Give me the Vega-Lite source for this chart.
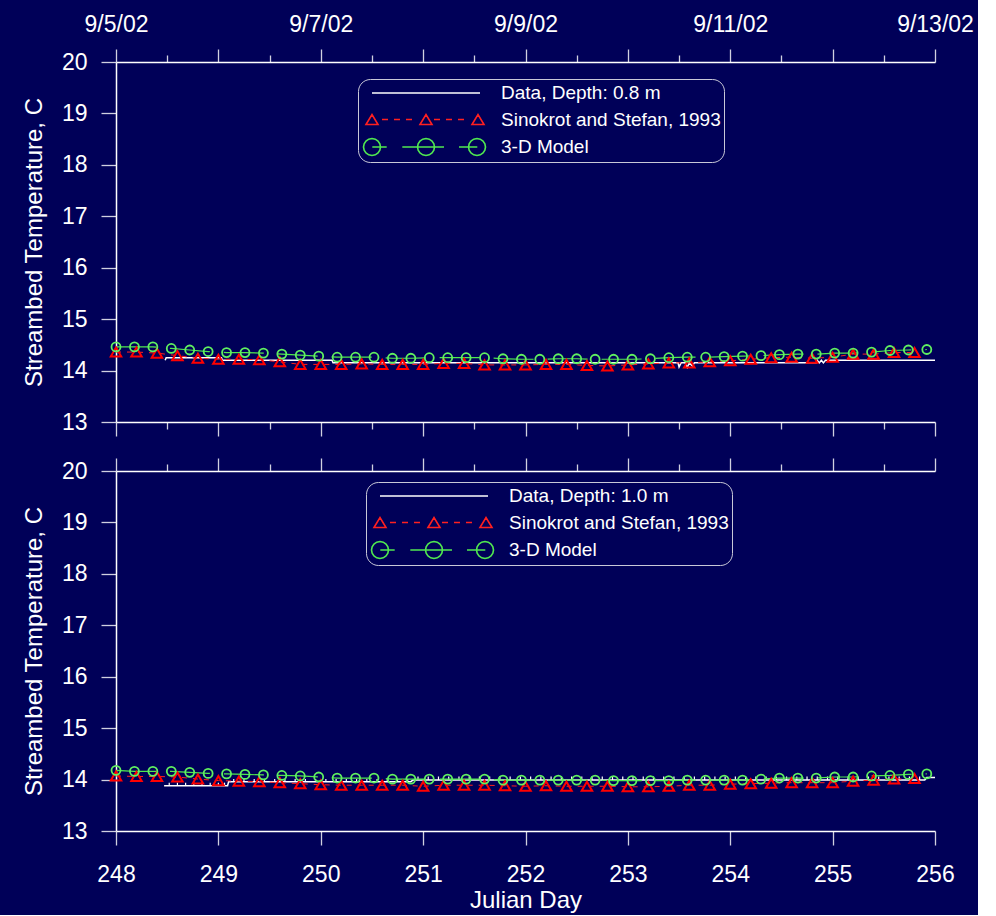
{
"$schema": "https://vega.github.io/schema/vega-lite/v6.json",
"background": "#000058",
"padding": {"left": 22, "top": 13, "right": 4, "bottom": 3},
"bounds": "flush",
"spacing": 49,
"config": {
  "view": {"stroke": null},
  "font": "Liberation Sans",
  "axis": {"labelFont": "Liberation Sans", "labelFontSize": 23, "labelColor": "#ffffff", "domainColor": "#ffffff", "domainWidth": 1.5, "tickColor": "#d0d0e0", "tickWidth": 1.3, "grid": false, "titleFont": "Liberation Sans", "titleFontSize": 24, "titleFontWeight": "normal", "titleColor": "#ffffff", "labelOverlap": false, "labelFlush": false},
  "legend": {"labelFont": "Liberation Sans", "labelFontSize": 19, "labelColor": "#ffffff", "labelLimit": 400, "symbolSize": 400, "symbolStrokeWidth": 1.6, "labelOffset": 118, "padding": 3, "rowPadding": 5.5, "strokeColor": "#c8c8d8", "cornerRadius": 12, "fillColor": "#000058"}
},
"datasets": {
"top": [
{"s":"data","d":248.48,"t":14.2},{"s":"data","d":248.49,"t":14.25},{"s":"data","d":249.03,"t":14.25},{"s":"data","d":249.04,"t":14.2},{"s":"data","d":250.11,"t":14.2},{"s":"data","d":250.12,"t":14.15},{"s":"data","d":253.49,"t":14.15},{"s":"data","d":253.5,"t":14.07},{"s":"data","d":253.52,"t":14.15},{"s":"data","d":253.56,"t":14.15},{"s":"data","d":253.58,"t":14.06},{"s":"data","d":253.6,"t":14.15},{"s":"data","d":253.63,"t":14.09},{"s":"data","d":253.65,"t":14.15},{"s":"data","d":254.84,"t":14.15},{"s":"data","d":254.85,"t":14.2},{"s":"data","d":254.87,"t":14.15},{"s":"data","d":254.89,"t":14.2},{"s":"data","d":254.91,"t":14.15},{"s":"data","d":254.93,"t":14.2},{"s":"data","d":256,"t":14.2},
{"s":"sino","d":248.0,"t":14.36},{"s":"sino","d":248.2,"t":14.36},{"s":"sino","d":248.4,"t":14.34},{"s":"sino","d":248.6,"t":14.29},{"s":"sino","d":248.8,"t":14.24},{"s":"sino","d":249.0,"t":14.22},{"s":"sino","d":249.2,"t":14.22},{"s":"sino","d":249.4,"t":14.21},{"s":"sino","d":249.6,"t":14.17},{"s":"sino","d":249.8,"t":14.12},{"s":"sino","d":250.0,"t":14.12},{"s":"sino","d":250.2,"t":14.12},{"s":"sino","d":250.4,"t":14.13},{"s":"sino","d":250.6,"t":14.12},{"s":"sino","d":250.8,"t":14.12},{"s":"sino","d":251.0,"t":14.12},{"s":"sino","d":251.2,"t":14.14},{"s":"sino","d":251.4,"t":14.14},{"s":"sino","d":251.6,"t":14.11},{"s":"sino","d":251.8,"t":14.11},{"s":"sino","d":252.0,"t":14.11},{"s":"sino","d":252.2,"t":14.12},{"s":"sino","d":252.4,"t":14.12},{"s":"sino","d":252.6,"t":14.10},{"s":"sino","d":252.8,"t":14.09},{"s":"sino","d":253.0,"t":14.11},{"s":"sino","d":253.2,"t":14.13},{"s":"sino","d":253.4,"t":14.15},{"s":"sino","d":253.6,"t":14.15},{"s":"sino","d":253.8,"t":14.17},{"s":"sino","d":254.0,"t":14.19},{"s":"sino","d":254.2,"t":14.22},{"s":"sino","d":254.4,"t":14.25},{"s":"sino","d":254.6,"t":14.26},{"s":"sino","d":254.8,"t":14.24},{"s":"sino","d":255.0,"t":14.26},{"s":"sino","d":255.2,"t":14.32},{"s":"sino","d":255.4,"t":14.32},{"s":"sino","d":255.6,"t":14.35},{"s":"sino","d":255.8,"t":14.35},
{"s":"model","d":248.0,"t":14.46},{"s":"model","d":248.18,"t":14.46},{"s":"model","d":248.36,"t":14.46},{"s":"model","d":248.54,"t":14.43},{"s":"model","d":248.72,"t":14.40},{"s":"model","d":248.9,"t":14.37},{"s":"model","d":249.08,"t":14.35},{"s":"model","d":249.26,"t":14.35},{"s":"model","d":249.44,"t":14.34},{"s":"model","d":249.62,"t":14.32},{"s":"model","d":249.8,"t":14.30},{"s":"model","d":249.98,"t":14.28},{"s":"model","d":250.16,"t":14.26},{"s":"model","d":250.34,"t":14.26},{"s":"model","d":250.52,"t":14.26},{"s":"model","d":250.7,"t":14.24},{"s":"model","d":250.88,"t":14.24},{"s":"model","d":251.06,"t":14.25},{"s":"model","d":251.24,"t":14.25},{"s":"model","d":251.42,"t":14.25},{"s":"model","d":251.6,"t":14.25},{"s":"model","d":251.78,"t":14.23},{"s":"model","d":251.96,"t":14.22},{"s":"model","d":252.14,"t":14.22},{"s":"model","d":252.32,"t":14.23},{"s":"model","d":252.5,"t":14.23},{"s":"model","d":252.68,"t":14.22},{"s":"model","d":252.86,"t":14.22},{"s":"model","d":253.04,"t":14.22},{"s":"model","d":253.22,"t":14.23},{"s":"model","d":253.4,"t":14.25},{"s":"model","d":253.58,"t":14.26},{"s":"model","d":253.76,"t":14.26},{"s":"model","d":253.94,"t":14.27},{"s":"model","d":254.12,"t":14.28},{"s":"model","d":254.3,"t":14.29},{"s":"model","d":254.48,"t":14.31},{"s":"model","d":254.66,"t":14.32},{"s":"model","d":254.84,"t":14.32},{"s":"model","d":255.02,"t":14.34},{"s":"model","d":255.2,"t":14.34},{"s":"model","d":255.38,"t":14.36},{"s":"model","d":255.56,"t":14.39},{"s":"model","d":255.74,"t":14.40},{"s":"model","d":255.92,"t":14.41}
],
"bottom": [
{"s":"data","d":248.47,"t":13.88},{"s":"data","d":249.09,"t":13.88},{"s":"data","d":249.1,"t":13.96},{"s":"data","d":250.88,"t":13.96},{"s":"data","d":250.9,"t":13.99},{"s":"data","d":255.9,"t":13.99},{"s":"data","d":255.92,"t":14.04},{"s":"data","d":256,"t":14.04},
{"s":"sino","d":248.0,"t":14.07},{"s":"sino","d":248.2,"t":14.06},{"s":"sino","d":248.4,"t":14.06},{"s":"sino","d":248.6,"t":14.05},{"s":"sino","d":248.8,"t":14.01},{"s":"sino","d":249.0,"t":13.98},{"s":"sino","d":249.2,"t":13.97},{"s":"sino","d":249.4,"t":13.96},{"s":"sino","d":249.6,"t":13.94},{"s":"sino","d":249.8,"t":13.92},{"s":"sino","d":250.0,"t":13.90},{"s":"sino","d":250.2,"t":13.89},{"s":"sino","d":250.4,"t":13.89},{"s":"sino","d":250.6,"t":13.89},{"s":"sino","d":250.8,"t":13.89},{"s":"sino","d":251.0,"t":13.87},{"s":"sino","d":251.2,"t":13.89},{"s":"sino","d":251.4,"t":13.89},{"s":"sino","d":251.6,"t":13.89},{"s":"sino","d":251.8,"t":13.88},{"s":"sino","d":252.0,"t":13.87},{"s":"sino","d":252.2,"t":13.88},{"s":"sino","d":252.4,"t":13.87},{"s":"sino","d":252.6,"t":13.87},{"s":"sino","d":252.8,"t":13.87},{"s":"sino","d":253.0,"t":13.86},{"s":"sino","d":253.2,"t":13.86},{"s":"sino","d":253.4,"t":13.87},{"s":"sino","d":253.6,"t":13.89},{"s":"sino","d":253.8,"t":13.89},{"s":"sino","d":254.0,"t":13.91},{"s":"sino","d":254.2,"t":13.92},{"s":"sino","d":254.4,"t":13.93},{"s":"sino","d":254.6,"t":13.94},{"s":"sino","d":254.8,"t":13.94},{"s":"sino","d":255.0,"t":13.94},{"s":"sino","d":255.2,"t":13.97},{"s":"sino","d":255.4,"t":13.99},{"s":"sino","d":255.6,"t":14.01},{"s":"sino","d":255.8,"t":14.02},
{"s":"model","d":248.0,"t":14.18},{"s":"model","d":248.18,"t":14.16},{"s":"model","d":248.36,"t":14.16},{"s":"model","d":248.54,"t":14.16},{"s":"model","d":248.72,"t":14.14},{"s":"model","d":248.9,"t":14.12},{"s":"model","d":249.08,"t":14.11},{"s":"model","d":249.26,"t":14.10},{"s":"model","d":249.44,"t":14.09},{"s":"model","d":249.62,"t":14.08},{"s":"model","d":249.8,"t":14.07},{"s":"model","d":249.98,"t":14.05},{"s":"model","d":250.16,"t":14.03},{"s":"model","d":250.34,"t":14.03},{"s":"model","d":250.52,"t":14.03},{"s":"model","d":250.7,"t":14.01},{"s":"model","d":250.88,"t":14.01},{"s":"model","d":251.06,"t":14.01},{"s":"model","d":251.24,"t":14.01},{"s":"model","d":251.42,"t":14.01},{"s":"model","d":251.6,"t":14.01},{"s":"model","d":251.78,"t":13.99},{"s":"model","d":251.96,"t":13.99},{"s":"model","d":252.14,"t":13.99},{"s":"model","d":252.32,"t":13.99},{"s":"model","d":252.5,"t":13.99},{"s":"model","d":252.68,"t":13.99},{"s":"model","d":252.86,"t":13.98},{"s":"model","d":253.04,"t":13.98},{"s":"model","d":253.22,"t":13.98},{"s":"model","d":253.4,"t":13.98},{"s":"model","d":253.58,"t":13.99},{"s":"model","d":253.76,"t":13.99},{"s":"model","d":253.94,"t":13.99},{"s":"model","d":254.12,"t":13.99},{"s":"model","d":254.3,"t":14.01},{"s":"model","d":254.48,"t":14.03},{"s":"model","d":254.66,"t":14.03},{"s":"model","d":254.84,"t":14.03},{"s":"model","d":255.02,"t":14.05},{"s":"model","d":255.2,"t":14.05},{"s":"model","d":255.38,"t":14.07},{"s":"model","d":255.56,"t":14.08},{"s":"model","d":255.74,"t":14.10},{"s":"model","d":255.92,"t":14.11}
],
"bsp": [
{"d":248.52,"lo":13.88,"hi":13.94},{"d":248.6,"lo":13.88,"hi":13.94},{"d":248.68,"lo":13.88,"hi":13.94},{"d":248.76,"lo":13.88,"hi":13.94},{"d":248.84,"lo":13.88,"hi":13.94},{"d":248.92,"lo":13.88,"hi":13.94},{"d":249.0,"lo":13.88,"hi":13.94},{"d":249.06,"lo":13.88,"hi":13.94},
{"d":249.15,"lo":13.96,"hi":14.01},{"d":249.25,"lo":13.96,"hi":14.01},{"d":249.35,"lo":13.96,"hi":14.01},{"d":249.45,"lo":13.96,"hi":14.01},{"d":249.55,"lo":13.96,"hi":14.01},{"d":249.65,"lo":13.96,"hi":14.01},{"d":249.75,"lo":13.96,"hi":14.01},{"d":249.85,"lo":13.96,"hi":14.01},{"d":249.95,"lo":13.96,"hi":14.01},{"d":250.05,"lo":13.96,"hi":14.01},{"d":250.15,"lo":13.96,"hi":14.01},{"d":250.25,"lo":13.96,"hi":14.01},{"d":250.35,"lo":13.96,"hi":14.01},{"d":250.45,"lo":13.96,"hi":14.01},{"d":250.55,"lo":13.96,"hi":14.01},{"d":250.65,"lo":13.96,"hi":14.01},{"d":250.75,"lo":13.96,"hi":14.01},{"d":250.85,"lo":13.96,"hi":14.01},
{"d":250.95,"lo":13.99,"hi":14.06},{"d":251.05,"lo":13.99,"hi":14.06},{"d":251.15,"lo":13.99,"hi":14.06},{"d":251.25,"lo":13.99,"hi":14.06},{"d":251.35,"lo":13.99,"hi":14.06},{"d":251.45,"lo":13.99,"hi":14.06},{"d":251.55,"lo":13.99,"hi":14.06},{"d":251.65,"lo":13.99,"hi":14.06},{"d":251.75,"lo":13.99,"hi":14.06},{"d":251.85,"lo":13.99,"hi":14.06},{"d":251.95,"lo":13.99,"hi":14.06},{"d":252.05,"lo":13.99,"hi":14.06},{"d":252.15,"lo":13.99,"hi":14.06},{"d":252.25,"lo":13.99,"hi":14.06},{"d":252.35,"lo":13.99,"hi":14.06},{"d":252.45,"lo":13.99,"hi":14.06},{"d":252.55,"lo":13.99,"hi":14.06},{"d":252.65,"lo":13.99,"hi":14.06},{"d":252.75,"lo":13.99,"hi":14.06},{"d":252.85,"lo":13.99,"hi":14.06},{"d":252.95,"lo":13.99,"hi":14.06},{"d":253.05,"lo":13.99,"hi":14.06},{"d":253.15,"lo":13.99,"hi":14.06},{"d":253.25,"lo":13.99,"hi":14.06},{"d":253.35,"lo":13.99,"hi":14.06},{"d":253.45,"lo":13.99,"hi":14.06},{"d":253.55,"lo":13.99,"hi":14.06},{"d":253.65,"lo":13.99,"hi":14.06},{"d":253.75,"lo":13.99,"hi":14.06},{"d":253.85,"lo":13.99,"hi":14.06},{"d":253.95,"lo":13.99,"hi":14.06},{"d":254.05,"lo":13.99,"hi":14.06},{"d":254.15,"lo":13.99,"hi":14.06},{"d":254.25,"lo":13.99,"hi":14.06},{"d":254.35,"lo":13.99,"hi":14.06},{"d":254.45,"lo":13.99,"hi":14.06},{"d":254.55,"lo":13.99,"hi":14.06},{"d":254.65,"lo":13.99,"hi":14.06},{"d":254.75,"lo":13.99,"hi":14.06},{"d":254.85,"lo":13.99,"hi":14.06},{"d":254.95,"lo":13.99,"hi":14.06},{"d":255.05,"lo":13.99,"hi":14.06},{"d":255.15,"lo":13.99,"hi":14.06},{"d":255.25,"lo":13.99,"hi":14.06},{"d":255.35,"lo":13.99,"hi":14.06},{"d":255.45,"lo":13.99,"hi":14.06},{"d":255.55,"lo":13.99,"hi":14.06},{"d":255.65,"lo":13.99,"hi":14.06},{"d":255.75,"lo":13.99,"hi":14.06},{"d":255.85,"lo":13.99,"hi":14.06}
]
},
"resolve": {"scale": {"color": "independent"}, "legend": {"color": "independent"}},
"vconcat": [
{
  "width": 819, "height": 360,
  "data": {"name": "top"},
  "resolve": {"axis": {"x": "independent", "y": "independent"}},
  "layer": [
    {
      "transform": [{"filter": "datum.s == 'data'"}],
      "mark": {"type": "line", "strokeWidth": 1.5},
      "encoding": {
        "x": {"field": "d", "type": "quantitative", "scale": {"domain": [248, 256], "nice": false, "zero": false},
              "axis": {"orient": "top", "values": [248,248.5,249,249.5,250,250.5,251,251.5,252,252.5,253,253.5,254,254.5,255,255.5,256], "tickSize": {"condition": {"test": "datum.value % 1 === 0", "value": 13}, "value": 7}, "labelExpr": "datum.value % 2 === 0 ? '9/' + (datum.value - 243) + '/02' : ''", "labelPadding": 13, "title": null}},
        "y": {"field": "t", "type": "quantitative", "scale": {"domain": [13, 20], "nice": false, "zero": false},
              "axis": {"orient": "left", "values": [13,13.5,14,14.5,15,15.5,16,16.5,17,17.5,18,18.5,19,19.5,20], "format": "d", "tickSize": {"condition": {"test": "datum.value % 1 === 0", "value": 15}, "value": 7}, "labelExpr": "datum.value % 1 === 0 ? datum.label : ''", "labelPadding": 14, "title": "Streambed Temperature, C", "titlePadding": 15}},
        "color": {"field": "s", "type": "nominal", "scale": {"domain": ["data", "sino", "model"], "range": ["#ffffff", "#ff2020", "#50e850"]},
                  "legend": {"orient": "none", "legendX": 242, "legendY": 17, "title": null,
                             "labelExpr": "datum.value == 'data' ? 'Data, Depth: 0.8 m' : datum.value == 'sino' ? 'Sinokrot and Stefan, 1993' : '3-D Model'",
                             "encode": {"symbols": {"update": {"fill": {"value": "transparent"}, "strokeWidth": {"value": 1.6},
                               "shape": {"signal": "datum.value == 'data' ? 'M0,0L10.8,0' : datum.value == 'sino' ? 'M-0.6,0.5L0,-0.5L0.6,0.5ZM4.8,0.5L5.4,-0.5L6,0.5ZM10,0.5L10.6,-0.5L11.2,0.5ZM1,0L1.6,0M2.2,0L2.8,0M3.4,0L4,0M6.2,0L6.8,0M7.4,0L8,0M8.6,0L9.2,0' : 'M0.85,0L0.785,0.325L0.601,0.601L0.325,0.785L0,0.85L-0.325,0.785L-0.601,0.601L-0.785,0.325L-0.85,0L-0.785,-0.325L-0.601,-0.601L-0.325,-0.785L0,-0.85L0.325,-0.785L0.601,-0.601L0.785,-0.325ZM6.25,0L6.185,0.325L6.001,0.601L5.725,0.785L5.4,0.85L5.075,0.785L4.799,0.601L4.615,0.325L4.55,0L4.615,-0.325L4.799,-0.601L5.075,-0.785L5.4,-0.85L5.725,-0.785L6.001,-0.601L6.185,-0.325ZM11.35,0L11.285,0.325L11.101,0.601L10.825,0.785L10.5,0.85L10.175,0.785L9.899,0.601L9.715,0.325L9.65,0L9.715,-0.325L9.899,-0.601L10.175,-0.785L10.5,-0.85L10.825,-0.785L11.101,-0.601L11.285,-0.325ZM0.03,0L1.47,0M3.03,0L7.2,0M8.7,0L10.53,0'"}}}}}}
      }
    },
    {
      "transform": [{"filter": "datum.s == 'sino'"}],
      "mark": {"type": "line", "color": "#ff2020", "strokeWidth": 1, "strokeDash": [5, 6]},
      "encoding": {
        "x": {"field": "d", "type": "quantitative", "axis": null},
        "y": {"field": "t", "type": "quantitative", "axis": null}
      }
    },
    {
      "transform": [{"filter": "datum.s == 'model'"}],
      "mark": {"type": "line", "color": "#50e850", "strokeWidth": 1.2, "strokeDash": [40, 14]},
      "encoding": {
        "x": {"field": "d", "type": "quantitative", "axis": null},
        "y": {"field": "t", "type": "quantitative", "axis": null}
      }
    },
    {
      "transform": [{"filter": "datum.s == 'sino'"}],
      "mark": {"type": "point", "shape": "triangle-up", "filled": false, "color": "#ff0000", "strokeWidth": 2, "size": 110, "opacity": 1},
      "encoding": {
        "x": {"field": "d", "type": "quantitative",
              "axis": {"orient": "bottom", "values": [248,248.5,249,249.5,250,250.5,251,251.5,252,252.5,253,253.5,254,254.5,255,255.5,256], "tickSize": {"condition": {"test": "datum.value % 1 === 0", "value": 14}, "value": 7}, "labels": false, "title": null}},
        "y": {"field": "t", "type": "quantitative", "axis": null}
      }
    },
    {
      "transform": [{"filter": "datum.s == 'model'"}],
      "mark": {"type": "point", "shape": "circle", "filled": false, "color": "#60f060", "strokeWidth": 1.8, "size": 81, "opacity": 1},
      "encoding": {
        "x": {"field": "d", "type": "quantitative", "axis": null},
        "y": {"field": "t", "type": "quantitative", "axis": null}
      }
    }
  ]
},
{
  "width": 819, "height": 360,
  "resolve": {"axis": {"x": "independent", "y": "independent"}},
  "layer": [
    {
      "data": {"name": "bottom"},
      "transform": [{"filter": "datum.s == 'data'"}],
      "mark": {"type": "line", "strokeWidth": 1.5},
      "encoding": {
        "x": {"field": "d", "type": "quantitative", "scale": {"domain": [248, 256], "nice": false, "zero": false},
              "axis": {"orient": "top", "values": [248,248.5,249,249.5,250,250.5,251,251.5,252,252.5,253,253.5,254,254.5,255,255.5,256], "tickSize": {"condition": {"test": "datum.value % 1 === 0", "value": 13}, "value": 7}, "labels": false, "title": null}},
        "y": {"field": "t", "type": "quantitative", "scale": {"domain": [13, 20], "nice": false, "zero": false},
              "axis": {"orient": "left", "values": [13,13.5,14,14.5,15,15.5,16,16.5,17,17.5,18,18.5,19,19.5,20], "format": "d", "tickSize": {"condition": {"test": "datum.value % 1 === 0", "value": 15}, "value": 7}, "labelExpr": "datum.value % 1 === 0 ? datum.label : ''", "labelPadding": 14, "title": "Streambed Temperature, C", "titlePadding": 15}},
        "color": {"field": "s", "type": "nominal", "scale": {"domain": ["data", "sino", "model"], "range": ["#ffffff", "#ff2020", "#50e850"]},
                  "legend": {"orient": "none", "legendX": 250, "legendY": 11, "title": null,
                             "labelExpr": "datum.value == 'data' ? 'Data, Depth: 1.0 m' : datum.value == 'sino' ? 'Sinokrot and Stefan, 1993' : '3-D Model'",
                             "encode": {"symbols": {"update": {"fill": {"value": "transparent"}, "strokeWidth": {"value": 1.6},
                               "shape": {"signal": "datum.value == 'data' ? 'M0,0L10.8,0' : datum.value == 'sino' ? 'M-0.6,0.5L0,-0.5L0.6,0.5ZM4.8,0.5L5.4,-0.5L6,0.5ZM10,0.5L10.6,-0.5L11.2,0.5ZM1,0L1.6,0M2.2,0L2.8,0M3.4,0L4,0M6.2,0L6.8,0M7.4,0L8,0M8.6,0L9.2,0' : 'M0.85,0L0.785,0.325L0.601,0.601L0.325,0.785L0,0.85L-0.325,0.785L-0.601,0.601L-0.785,0.325L-0.85,0L-0.785,-0.325L-0.601,-0.601L-0.325,-0.785L0,-0.85L0.325,-0.785L0.601,-0.601L0.785,-0.325ZM6.25,0L6.185,0.325L6.001,0.601L5.725,0.785L5.4,0.85L5.075,0.785L4.799,0.601L4.615,0.325L4.55,0L4.615,-0.325L4.799,-0.601L5.075,-0.785L5.4,-0.85L5.725,-0.785L6.001,-0.601L6.185,-0.325ZM11.35,0L11.285,0.325L11.101,0.601L10.825,0.785L10.5,0.85L10.175,0.785L9.899,0.601L9.715,0.325L9.65,0L9.715,-0.325L9.899,-0.601L10.175,-0.785L10.5,-0.85L10.825,-0.785L11.101,-0.601L11.285,-0.325ZM0.03,0L1.47,0M3.03,0L7.2,0M8.7,0L10.53,0'"}}}}}}
      }
    },
    {
      "data": {"name": "bsp"},
      "mark": {"type": "rule", "color": "#ffffff", "strokeWidth": 1.2},
      "encoding": {
        "x": {"field": "d", "type": "quantitative", "axis": null},
        "y": {"field": "lo", "type": "quantitative", "axis": null},
        "y2": {"field": "hi"}
      }
    },
    {
      "data": {"name": "bottom"},
      "transform": [{"filter": "datum.s == 'sino'"}],
      "mark": {"type": "line", "color": "#ff2020", "strokeWidth": 1, "strokeDash": [5, 6]},
      "encoding": {
        "x": {"field": "d", "type": "quantitative", "axis": null},
        "y": {"field": "t", "type": "quantitative", "axis": null}
      }
    },
    {
      "data": {"name": "bottom"},
      "transform": [{"filter": "datum.s == 'model'"}],
      "mark": {"type": "line", "color": "#50e850", "strokeWidth": 1.2, "strokeDash": [40, 14]},
      "encoding": {
        "x": {"field": "d", "type": "quantitative", "axis": null},
        "y": {"field": "t", "type": "quantitative", "axis": null}
      }
    },
    {
      "data": {"name": "bottom"},
      "transform": [{"filter": "datum.s == 'sino'"}],
      "mark": {"type": "point", "shape": "triangle-up", "filled": false, "color": "#ff0000", "strokeWidth": 2, "size": 110, "opacity": 1},
      "encoding": {
        "x": {"field": "d", "type": "quantitative",
              "axis": {"orient": "bottom", "values": [248,248.5,249,249.5,250,250.5,251,251.5,252,252.5,253,253.5,254,254.5,255,255.5,256], "format": "d", "tickSize": {"condition": {"test": "datum.value % 1 === 0", "value": 14}, "value": 7}, "labelExpr": "datum.value % 1 === 0 ? datum.label : ''", "labelPadding": 18, "title": "Julian Day", "titlePadding": 2}},
        "y": {"field": "t", "type": "quantitative", "axis": null}
      }
    },
    {
      "data": {"name": "bottom"},
      "transform": [{"filter": "datum.s == 'model'"}],
      "mark": {"type": "point", "shape": "circle", "filled": false, "color": "#60f060", "strokeWidth": 1.8, "size": 81, "opacity": 1},
      "encoding": {
        "x": {"field": "d", "type": "quantitative", "axis": null},
        "y": {"field": "t", "type": "quantitative", "axis": null}
      }
    }
  ]
}
]
}
